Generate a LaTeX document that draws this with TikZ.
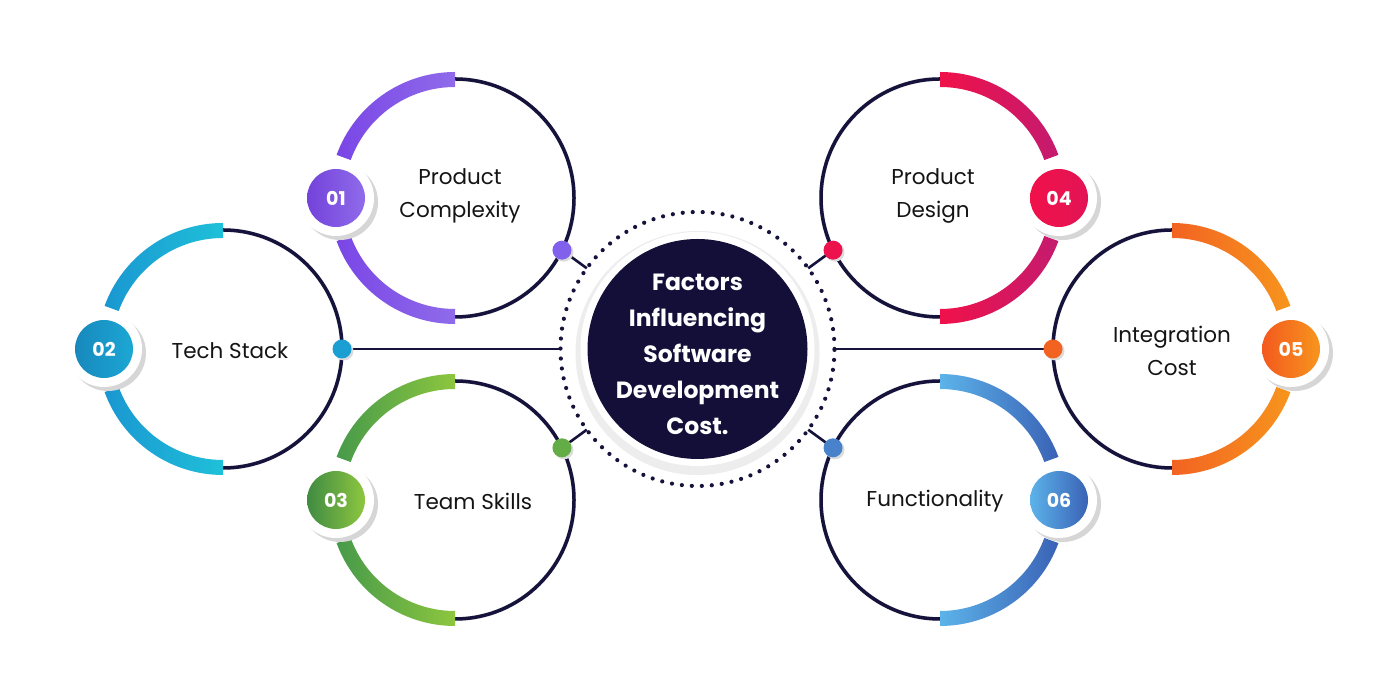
\documentclass[tikz,border=0pt]{standalone}
\usepackage{fontspec}
\setmainfont{Poppins}
\usetikzlibrary{calc}
\definecolor{navy}{HTML}{15123B}
\definecolor{hubnavy}{HTML}{130F38}
\definecolor{puA}{HTML}{7A46E6}\definecolor{puB}{HTML}{8F6BEA}
\definecolor{cyA}{HTML}{1A97D1}\definecolor{cyB}{HTML}{1FC0D9}
\definecolor{grA}{HTML}{479A4A}\definecolor{grB}{HTML}{8DC63F}
\definecolor{rdA}{HTML}{F0114A}\definecolor{rdB}{HTML}{C41B6F}
\definecolor{orA}{HTML}{F26322}\definecolor{orB}{HTML}{F7951D}
\definecolor{blA}{HTML}{5CB3EA}\definecolor{blB}{HTML}{3A62B5}
\newcommand\myleftband[3]{%
  \draw[ringshadow,shift={#1}] (92:119) arc[start angle=92,end angle=-88,radius=119];
  \draw[thinline,shift={#1}] (90:119) arc[start angle=90,end angle=-90,radius=119];
  \shade[left color=#2,right color=#3,shift={#1}]
    (90:126) arc[start angle=90,end angle=160,radius=126] -- (160:111) arc[start angle=160,end angle=90,radius=111] -- cycle
    (200:126) arc[start angle=200,end angle=270,radius=126] -- (270:111) arc[start angle=270,end angle=200,radius=111] -- cycle;}
\newcommand\myrightband[3]{%
  \draw[ringshadow,shift={#1}] (92:119) arc[start angle=92,end angle=272,radius=119];
  \draw[thinline,shift={#1}] (90:119) arc[start angle=90,end angle=270,radius=119];
  \shade[left color=#2,right color=#3,shift={#1}]
    (90:126) arc[start angle=90,end angle=20,radius=126] -- (20:111) arc[start angle=20,end angle=90,radius=111] -- cycle
    (-20:126) arc[start angle=-20,end angle=-90,radius=126] -- (-90:111) arc[start angle=-90,end angle=-20,radius=111] -- cycle;}
\newcommand\mybadgebase[1]{%
  \fill[black!16] ($#1+(4,-4)$) circle[radius=38];
  \fill[white] #1 circle[radius=38];}
\begin{document}
\begin{tikzpicture}[x=1pt,y=1pt,
  ringnode/.style={circle,minimum size=238pt,inner sep=0pt,outer sep=0pt},
  thinline/.style={draw=navy,line width=3.5pt},
  ringshadow/.style={draw=black!10,line width=4pt},
  badge/.style={circle,minimum size=58pt,inner sep=0pt,text=white,font=\bfseries\fontsize{19}{19}\selectfont},
  dotnode/.style={circle,minimum size=19pt,inner sep=0pt,outer sep=0pt},
  factortext/.style={align=center,text=black!92,font=\fontsize{21.5}{33}\selectfont},
  link/.style={draw=navy,line width=2.6pt},
  dotring/.style={circle,minimum size=274pt,inner sep=0pt,outer sep=0pt,draw=navy,line width=4.2pt,dash pattern=on 0pt off 10pt,line cap=round},
  hub/.style={circle,minimum size=220pt,inner sep=0pt,fill=hubnavy},
  hubtext/.style={align=center,text=white,font=\bfseries\fontsize{23.5}{36}\selectfont}
]
\useasboundingbox (0,0) rectangle (1400,700);
\fill[white] (0,0) rectangle (1400,700);

% centres
\coordinate (c0) at (697.5,351);
\coordinate (c1) at (455,502);
\coordinate (c2) at (223,351);
\coordinate (c3) at (455,200);
\coordinate (c4) at (940,502);
\coordinate (c5) at (1172,351);
\coordinate (c6) at (940,200);

% rings (anchors only)
\node[ringnode] (r1) at (c1) {};
\node[ringnode] (r2) at (c2) {};
\node[ringnode] (r3) at (c3) {};
\node[ringnode] (r4) at (c4) {};
\node[ringnode] (r5) at (c5) {};
\node[ringnode] (r6) at (c6) {};

% thin halves and coloured bands
\myleftband{(c1)}{puA}{puB}
\myleftband{(c2)}{cyA}{cyB}
\myleftband{(c3)}{grA}{grB}
\myrightband{(c4)}{rdA}{rdB}
\myrightband{(c5)}{orA}{orB}
\myrightband{(c6)}{blA}{blB}

% hub
\fill[black!7] ($(c0)+(0,-4)$) circle[radius=122];
\fill[white] (c0) circle[radius=117];
\node[dotring] (ring) at (c0) {};
\node[hub] (hub) at (c0) {};
\node[hubtext] (hubtext) at (697.5,346) {Factors\\Influencing\\Software\\Development\\Cost.};

% dots
\node[dotnode] (d1) at (r1.-26) {};
\node[dotnode] (d2) at (r2.0) {};
\node[dotnode] (d3) at (r3.26) {};
\node[dotnode] (d4) at (r4.206) {};
\node[dotnode] (d5) at (r5.180) {};
\node[dotnode] (d6) at (r6.154) {};

% links
\draw[link] (d1.center) -- (ring);
\draw[link] (d2.center) -- (ring);
\draw[link] (d3.center) -- (ring);
\draw[link] (d4.center) -- (ring);
\draw[link] (d5.center) -- (ring);
\draw[link] (d6.center) -- (ring);

\foreach \d in {d1,d2,d3,d4,d5,d6}{\fill[black!14] ($(\d)+(2,-2)$) circle[radius=9.5];}
\node[dotnode,fill=puB!90!blue] at (d1) {};
\node[dotnode,fill=cyA!80!cyB] at (d2) {};
\node[dotnode,fill=grA!60!grB] at (d3) {};
\node[dotnode,fill=rdA!90!rdB] at (d4) {};
\node[dotnode,fill=orA] at (d5) {};
\node[dotnode,fill=blB!60!blA] at (d6) {};

% badges
\mybadgebase{(r1.180)}
\node[badge,left color=puA!95!black,right color=puB] (b1) at (r1.180) {01};
\mybadgebase{(r2.180)}
\node[badge,left color=cyA!90!black,right color=cyA!60!cyB] (b2) at (r2.180) {02};
\mybadgebase{(r3.180)}
\node[badge,left color=grA!90!black,right color=grB] (b3) at (r3.180) {03};
\mybadgebase{(r4.0)}
\node[badge,left color=rdA,right color=rdA!70!rdB] (b4) at (r4.0) {04};
\mybadgebase{(r5.0)}
\node[badge,left color=orA!90!red,right color=orB] (b5) at (r5.0) {05};
\mybadgebase{(r6.0)}
\node[badge,left color=blA,right color=blB] (b6) at (r6.0) {06};

% texts
\node[factortext] (t1) at (460,504) {Product\\Complexity};
\node[factortext] (t2) at (230,349) {Tech Stack};
\node[factortext] (t3) at (473,199) {Team Skills};
\node[factortext] (t4) at (933,504) {Product\\Design};
\node[factortext] (t5) at (1172,349) {Integration\\Cost};
\node[factortext] (t6) at (935,199) {Functionality};
\end{tikzpicture}
\end{document}
